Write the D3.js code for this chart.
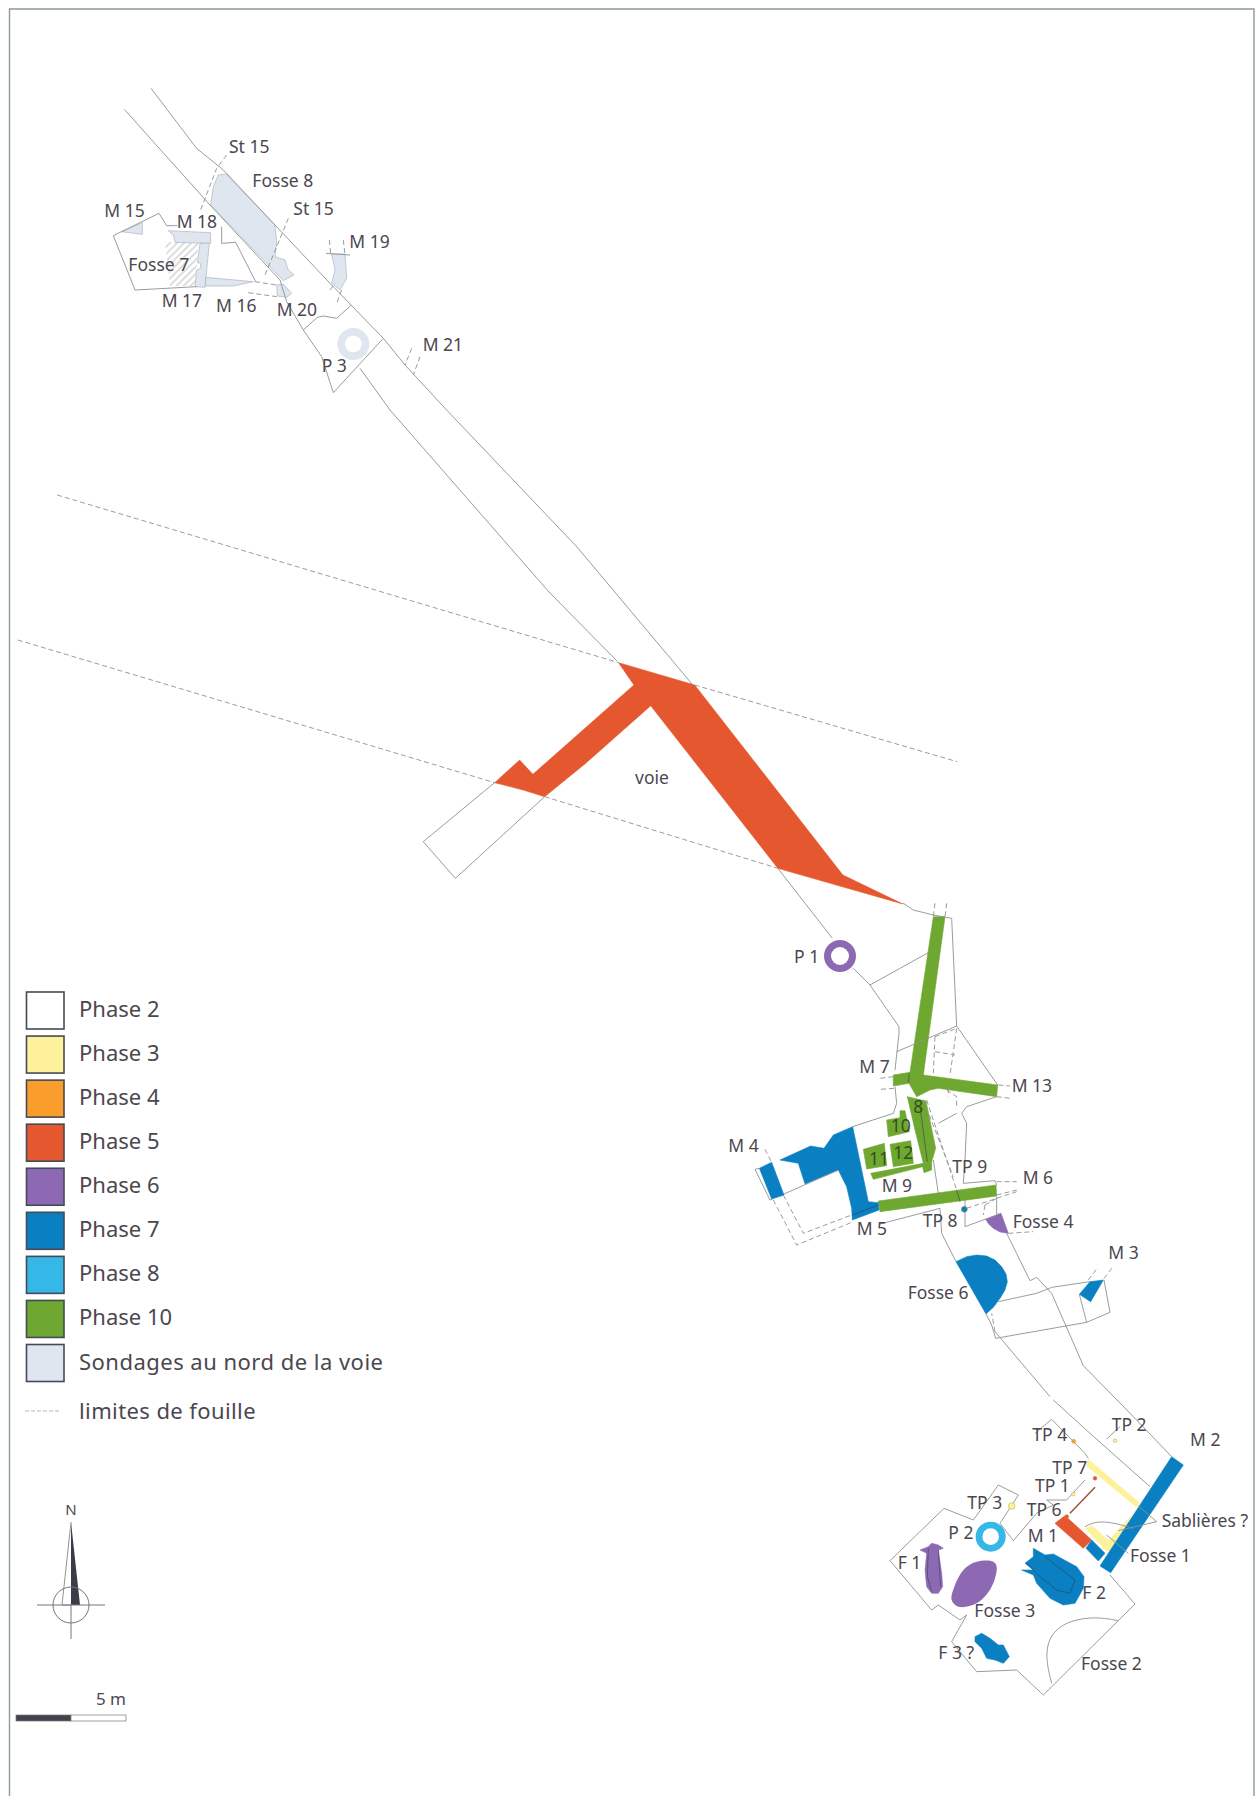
<!DOCTYPE html>
<html>
<head>
<meta charset="utf-8">
<script src="https://cdn.jsdelivr.net/npm/d3@7/dist/d3.min.js"></script>
<style>
  html, body { margin: 0; padding: 0; background: #fff; }
  text { font-family: "Noto Sans", sans-serif; }
</style>
</head>
<body>
<svg id="plan" width="1258" height="1796"></svg>
<script>
// Legend
const phaseNames = ["Phase 2", "Phase 3", "Phase 4", "Phase 5", "Phase 6", "Phase 7", "Phase 8", "Phase 10", "Sondages au nord de la voie"];
const phaseColours = ["#ffffff", "#fdf29b", "#f99d2c", "#e4572f", "#8e69b3", "#0a7fc2", "#35b8e8", "#6fa830", "#dfe6f0"];

// Plan is digitised in five sheets, each with its own origin and enlargement: [x0, y0, kx, ky]
const northSheet = [90, 70, 3, 3];
const voieSheet = [400, 640, 2.8, 3];
const centreSheet = [700, 900, 3, 3];
const midSheet = [880, 1200, 3, 3];
const southSheet = [870, 1400, 3, 3];

// North sheet
const northFills = [
  ["Sondages au nord de la voie", [[385,315],[408,312],[555,465],[560,520],[555,560],[585,570],[595,600],[612,615],[580,632],[362,405],[370,350]]],
  ["Sondages au nord de la voie", [[95,485],[157,458],[157,493]]],
  ["Sondages au nord de la voie", [[235,482],[362,488],[362,520],[255,517],[250,495]]],
  ["Sondages au nord de la voie", [[330,520],[358,520],[345,652],[315,650],[320,600],[332,595],[332,580],[322,578]]],
  ["Sondages au nord de la voie", [[347,622],[490,635],[430,648],[347,648]]],
  ["Sondages au nord de la voie", [[560,645],[580,642],[605,670],[590,682],[562,678]]],
  ["Sondages au nord de la voie", [[725,552],[765,552],[770,625],[750,660],[725,640],[735,600]]]
];
const northHatch = [[225,515],[325,520],[320,580],[315,648],[240,648],[235,600]];
const northLines = [
  [[183,55],[320,235],[400,300],[555,465],[720,640],[880,805],[945,885],[1065,1015],[1461,1431],[1806,1842]],
  [[103,118],[360,405],[570,630],[590,695],[640,780],[695,860],[730,968],[880,805]],
  [[640,780],[682,742],[700,738],[740,745],[782,707]],
  [[810,895],[900,1020],[1377,1566],[1581,1773]],
  [[70,497],[207,430],[230,467],[262,467]],
  [[70,497],[135,660],[320,650]],
  [[395,470],[395,520],[437,517],[497,635]],
  [[708,550],[780,555]]
];
const northDashes = [
  [[410,255],[380,295],[330,425]],
  [[595,445],[560,530],[525,615]],
  [[718,510],[722,550]], [[760,510],[765,555]],
  [[720,660],[735,640]], [[755,660],[740,700]],
  [[965,835],[945,885]], [[990,860],[970,915]],
  [[475,668],[560,680]], [[495,635],[560,645]]
];
const northLabels = [
  ["St 15",417,248],["Fosse 8",487,350],["St 15",610,435],["M 15",43,440],["M 18",260,475],
  ["Fosse 7",115,603],["M 19",778,535],["M 17",215,710],["M 16",378,725],["M 20",560,738],
  ["P 3",695,907],["M 21",998,842]
];
const northRings = [["Sondages au nord de la voie", 790, 822, 48, 25]];

// Voie sheet
const voieFills = [
  ["Phase 5", [[612,68],[825,135],[1240,705],[1408,792],[1058,685],[702,197],[520,370],[405,470],[345,450],[265,428],[335,360],[372,403],[655,135]]]
];
const voieLines = [
  [[265,428],[65,605],[155,715],[405,470]],
  [[1058,685],[1210,894]]
];
const voieDashes = [
  [[-960,-435],[612,68]],
  [[825,135],[1560,365]],
  [[-1070,0],[265,428]],
  [[405,470],[1058,685]]
];
const voieLabels = [["voie",658,432]];

// Centre sheet
const centreFills = [
  ["Phase 10", [[700,50],[735,50],[670,525],[893,555],[890,590],[715,565],[690,570],[650,590],[627,550],[580,558],[580,525],[630,517]]],
  ["Phase 10", [[622,590],[678,603],[707,745],[695,785],[670,790],[645,690]]],
  ["Phase 10", [[512,820],[670,790],[695,785],[695,810],[672,818],[668,800],[520,838]]],
  ["Phase 10", [[560,660],[600,653],[600,632],[615,632],[628,695],[565,710]]],
  ["Phase 10", [[490,748],[553,730],[560,797],[500,807]]],
  ["Phase 10", [[570,733],[632,722],[640,790],[580,800]]],
  ["Phase 10", [[535,903],[888,855],[890,888],[540,935]]],
  ["Phase 7", [[458,680],[505,905],[535,908],[537,930],[457,960],[455,925],[440,860],[415,810],[315,852],[295,790],[240,780],[332,738],[372,745],[400,705]]],
  ["Phase 7", [[178,805],[215,787],[252,885],[215,897]]],
  ["Phase 6", [[857,958],[903,940],[925,1000],[900,996],[880,985],[866,972]]]
];
const centreRings = [["Phase 6", 420, 168, 48, 27]];
const centreDots = [["Phase 7", 793, 928, 18]];
const centreLines = [
  [[460,205],[510,255],[597,380],[597,400],[585,510]],
  [[510,255],[690,155]],
  [[590,455],[770,378]],
  [[609,9],[640,30],[700,45],[755,55],[770,378],[893,555]],
  [[585,560],[590,610],[580,640],[458,680]],
  [[890,590],[800,620],[785,640],[800,670],[795,780],[790,850],[885,842],[890,855]],
  [[715,670],[770,640]],
  [[700,780],[715,880]],
  [[252,882],[415,810]],
  [[165,808],[210,900],[218,897]],
  [[795,900],[795,980],[890,945],[890,890]]
];
const centreDark = [
  [[660,620],[682,785]],
  [[770,870],[780,905]],
  [[628,520],[625,548]],
  [[457,945],[535,915]]
];
const centreDashes = [
  [[705,10],[700,50]], [[740,10],[735,50]],
  [[705,410],[770,385]], [[705,410],[700,520]], [[770,385],[750,525]], [[705,455],[765,465]],
  [[740,570],[770,590],[770,625]], [[745,565],[745,590]],
  [[580,530],[540,535]], [[582,565],[540,568]],
  [[895,555],[930,558]], [[890,590],[930,595]],
  [[680,600],[770,870]], [[670,600],[760,830]],
  [[890,845],[950,845]], [[890,885],[950,870]], [[800,925],[950,875]],
  [[855,915],[850,945]], [[855,915],[890,895]],
  [[925,1000],[1000,995]],
  [[195,748],[215,787]], [[165,808],[178,805]],
  [[220,900],[290,1035],[460,965]],
  [[250,885],[310,1000],[455,945]]
];
const centreLabels = [
  ["P 1",282,190],["M 7",478,520],["M 13",935,575],["M 4",85,757],["TP 9",757,818],["M 6",968,852],
  ["M 9",545,875],["TP 8",668,980],["M 5",470,1005],["Fosse 4",938,985]
];
const centreNumbers = [["8",640,640],["10",572,695],["11",507,795],["12",580,778]];

// Mid sheet, between the centre and the south end
const midFills = [
  ["Phase 7", [[228,185],[260,170],[290,165],[320,168],[345,180],[365,200],[378,222],[382,245],[375,270],[360,295],[340,322],[318,342]]],
  ["Phase 7", [[630,245],[670,240],[632,305],[598,283]]]
];
const midLines = [
  [[0,72],[180,25],[185,100],[228,185]],
  [[318,342],[335,375],[347,415],[620,367],[690,337],[672,240]],
  [[355,305],[470,280],[515,262],[630,245]],
  [[345,395],[510,590]],
  [[355,40],[380,100],[450,242],[470,232],[515,280],[610,497],[760,650],[875,770]],
  [[598,283],[620,367]],
  [[680,717],[720,680]]
];
const midDashes = [
  [[625,240],[650,207]], [[672,235],[697,203]],
  [[345,395],[335,340]]
];
const midLabels = [["M 3",685,178],["Fosse 6",83,296]];

// South sheet
const southFills = [
  ["Phase 3", [[655,178],[808,308],[800,322],[650,197]]],
  ["Phase 3", [[645,385],[668,378],[722,428],[700,442]]],
  ["Phase 3", [[695,445],[785,345],[720,455]]],
  ["Phase 5", [[555,370],[585,347],[665,420],[640,445]]],
  ["Phase 7", [[905,170],[940,195],[722,518],[690,498]]],
  ["Phase 7", [[665,420],[705,460],[685,483],[648,445]]],
  ["Phase 7", [[490,445],[525,465],[550,462],[620,500],[642,530],[640,565],[615,610],[580,615],[540,595],[500,550],[490,525],[455,510],[490,510],[465,490],[490,470]]],
  ["Phase 7", [[315,710],[335,700],[360,715],[385,735],[400,735],[418,770],[400,790],[375,780],[350,775],[335,745],[315,725]]],
  ["Phase 6", [[150,450],[175,440],[185,430],[205,435],[220,445],[205,450],[215,520],[218,560],[205,580],[185,580],[170,560],[165,510],[170,460]]]
];
const southRound = [
  ["Phase 6", [[320,485],[370,485],[380,500],[365,560],[320,610],[265,620],[245,600],[255,555],[285,505]]]
];
const southRings = [["Phase 8", 362, 410, 45, 25]];
// dots: phase, x, y, diameter
const southDots = [["Phase 4",611,124,12],["Phase 5",675,235,12],["Phase 3",610,282,11],["Phase 3",425,318,20],["Phase 3",735,122,11],["Phase 5",590,350,12]];
const southLines = [
  [[550,0],[660,100],[840,260]],
  [[545,58],[645,160],[655,175]],
  [[545,58],[495,100]],
  [[645,240],[590,300],[530,300],[550,315],[500,340],[430,422],[390,370],[445,285],[385,255],[310,360],[222,325],[60,482],[185,630],[205,615],[270,660],[290,645],[245,725],[320,815],[440,810],[520,885],[795,612],[720,525]],
  [[860,365],[805,318]], [[860,365],[745,392]],
  [[775,460],[710,405]]
];
const southCurves = [
  [[545,850],[525,770],[540,700],[600,660],[680,650],[745,662]],
  [[645,380],[680,362],[740,370],[790,385]]
];
const southLabels = [
  ["TP 2",725,92],["M 2",960,137],["TP 4",487,122],["TP 7",547,222],["TP 1",495,277],["TP 3",292,327],
  ["TP 6",470,347],["Sablières ?",875,382],["P 2",235,417],["M 1",473,425],["Fosse 1",780,485],["F 1",83,507],
  ["F 2",637,597],["Fosse 3",313,652],["F 3 ?",205,778],["Fosse 2",633,810]
];
const southInner = [[[600,340],[675,262]]];
const southDark = [
  [[525,470],[615,540],[600,580],[560,570],[510,530],[470,490]],
  [[175,445],[172,530],[185,575]],
  [[205,450],[212,560]]
];

const width = 1258;
const height = 1796;
const svg = d3.select("#plan");
const colour = d3.scaleOrdinal(phaseNames, phaseColours);
const lineColour = "#8f9191";
const textColour = "#4b4750";

const defs = svg.append("defs");
const hatch = defs.append("pattern")
  .attr("id", "hatch")
  .attr("width", 5)
  .attr("height", 5)
  .attr("patternUnits", "userSpaceOnUse")
  .attr("patternTransform", "rotate(-45)");
hatch.append("line")
  .attr("x1", 0).attr("x2", 5).attr("y1", 2).attr("y2", 2)
  .attr("stroke", "#a8a8a8").attr("stroke-width", 0.8);

// Page frame
svg.append("path")
  .attr("d", d3.line()([[9.5, height], [9.5, 9], [1254, 9], [1254, height]]))
  .attr("fill", "none")
  .attr("stroke", "#8b9a9f")
  .attr("stroke-width", 1.4);

// Draw one digitised sheet through its own pair of scales
function drawSheet(sheet, layers) {
  const [x0, y0, kx, ky] = sheet;
  const x = d3.scaleLinear().domain([0, 1]).range([x0, x0 + 1 / kx]);
  const y = d3.scaleLinear().domain([0, 1]).range([y0, y0 + 1 / ky]);
  const path = d3.line().x(d => x(d[0])).y(d => y(d[1]));
  const g = svg.append("g");

  const closed = pts => path(pts) + "Z";
  const round = d3.line().x(d => x(d[0])).y(d => y(d[1])).curve(d3.curveCatmullRomClosed);
  const open = d3.line().x(d => x(d[0])).y(d => y(d[1])).curve(d3.curveBasis);
  const edge = d => d[0] === "Sondages au nord de la voie" ? "#a3abb6" : colour(d[0]);

  if (layers.hatch) {
    g.append("path").attr("d", closed(layers.hatch)).attr("fill", "url(#hatch)");
  }

  g.selectAll("path.fill")
    .data(layers.fills || [])
    .join("path")
    .attr("class", "fill")
    .attr("d", d => closed(d[1]))
    .attr("fill", d => colour(d[0]))
    .attr("stroke", edge)
    .attr("stroke-width", 0.6);

  g.selectAll("path.round")
    .data(layers.round || [])
    .join("path")
    .attr("class", "round")
    .attr("d", d => round(d[1]))
    .attr("fill", d => colour(d[0]));

  g.selectAll("path.line")
    .data(layers.lines || [])
    .join("path")
    .attr("class", "line")
    .attr("d", path)
    .attr("fill", "none")
    .attr("stroke", lineColour)
    .attr("stroke-width", 0.9);

  g.selectAll("path.curve")
    .data(layers.curves || [])
    .join("path")
    .attr("class", "curve")
    .attr("d", open)
    .attr("fill", "none")
    .attr("stroke", lineColour)
    .attr("stroke-width", 0.9);

  g.selectAll("path.dash")
    .data(layers.dashes || [])
    .join("path")
    .attr("class", "dash")
    .attr("d", path)
    .attr("fill", "none")
    .attr("stroke", lineColour)
    .attr("stroke-width", 0.9)
    .attr("stroke-dasharray", "5 3");

  g.selectAll("path.inner")
    .data(layers.inner || [])
    .join("path")
    .attr("class", "inner")
    .attr("d", path)
    .attr("fill", "none")
    .attr("stroke", "#9c4a3c")
    .attr("stroke-width", 1.4);

  g.selectAll("path.dark")
    .data(layers.dark || [])
    .join("path")
    .attr("class", "dark")
    .attr("d", path)
    .attr("fill", "none")
    .attr("stroke", "#2c3f4a")
    .attr("stroke-opacity", 0.7)
    .attr("stroke-width", 0.8);

  // Rings: puits drawn as a thick circle
  g.selectAll("circle.ring")
    .data(layers.rings || [])
    .join("circle")
    .attr("class", "ring")
    .attr("cx", d => x(d[1]))
    .attr("cy", d => y(d[2]))
    .attr("r", d => (d[3] + d[4]) / 2 / kx)
    .attr("fill", "none")
    .attr("stroke", d => colour(d[0]))
    .attr("stroke-width", d => (d[3] - d[4]) / kx);

  g.selectAll("circle.dot")
    .data(layers.dots || [])
    .join("circle")
    .attr("class", "dot")
    .attr("cx", d => x(d[1]))
    .attr("cy", d => y(d[2]))
    .attr("r", d => d[3] / 2 / kx)
    .attr("fill", d => colour(d[0]))
    .attr("stroke", "#c79a4a")
    .attr("stroke-width", 0.5);

  g.selectAll("text.label")
    .data(layers.labels || [])
    .join("text")
    .attr("class", "label")
    .attr("x", d => x(d[1]))
    .attr("y", d => y(d[2]))
    .attr("font-size", 17.5)
    .attr("fill", textColour)
    .text(d => d[0]);

  g.selectAll("text.number")
    .data(layers.numbers || [])
    .join("text")
    .attr("class", "number")
    .attr("x", d => x(d[1]))
    .attr("y", d => y(d[2]))
    .attr("font-size", 17.5)
    .attr("fill", "#35501f")
    .text(d => d[0]);
}

drawSheet(voieSheet, { fills: voieFills, lines: voieLines, dashes: voieDashes, labels: voieLabels });
drawSheet(northSheet, { hatch: northHatch, fills: northFills, lines: northLines, dashes: northDashes, rings: northRings, labels: northLabels });
drawSheet(midSheet, { fills: midFills, lines: midLines, dashes: midDashes, labels: midLabels });
drawSheet(centreSheet, { fills: centreFills, lines: centreLines, dark: centreDark, dashes: centreDashes, rings: centreRings, dots: centreDots, labels: centreLabels, numbers: centreNumbers });
drawSheet(southSheet, { fills: southFills, round: southRound, lines: southLines, dark: southDark, curves: southCurves, inner: southInner, rings: southRings, dots: southDots, labels: southLabels });

// Legend
const legendY = d3.scalePoint().domain(phaseNames).range([992, 1344.5]);
const legend = svg.append("g");
legend.selectAll("rect")
  .data(phaseNames)
  .join("rect")
  .attr("x", 26.5)
  .attr("y", d => legendY(d))
  .attr("width", 37.5)
  .attr("height", 37)
  .attr("fill", d => colour(d))
  .attr("stroke", "#454a55")
  .attr("stroke-width", 1.6);
legend.selectAll("text")
  .data(phaseNames)
  .join("text")
  .attr("x", 79)
  .attr("y", d => legendY(d) + 25)
  .attr("font-size", 22)
  .attr("letter-spacing", d => d.length > 8 ? 0.48 : 0)
  .attr("fill", textColour)
  .text(d => d);
legend.append("line")
  .attr("x1", 25).attr("x2", 60).attr("y1", 1411).attr("y2", 1411)
  .attr("stroke", "#b5b5b5").attr("stroke-width", 1).attr("stroke-dasharray", "4 2");
legend.append("text")
  .attr("x", 79).attr("y", 1419)
  .attr("font-size", 22).attr("letter-spacing", 0.4).attr("fill", textColour)
  .text("limites de fouille");

// North arrow
const arrow = svg.append("g");
arrow.append("text")
  .attr("x", 71).attr("y", 1515).attr("text-anchor", "middle")
  .attr("font-size", 15).attr("fill", textColour).text("N");
arrow.append("path").attr("d", d3.line()([[71, 1522], [62, 1605], [71, 1605]]))
  .attr("fill", "#fff").attr("stroke", "#777").attr("stroke-width", 0.8);
arrow.append("path").attr("d", d3.line()([[71, 1522], [80, 1605], [71, 1605]]))
  .attr("fill", "#3a3d48");
arrow.append("circle").attr("cx", 71).attr("cy", 1605).attr("r", 18)
  .attr("fill", "none").attr("stroke", "#777").attr("stroke-width", 1);
arrow.append("line").attr("x1", 37).attr("x2", 105).attr("y1", 1605).attr("y2", 1605)
  .attr("stroke", "#777").attr("stroke-width", 1);
arrow.append("line").attr("x1", 71).attr("x2", 71).attr("y1", 1605).attr("y2", 1639)
  .attr("stroke", "#777").attr("stroke-width", 1);

// Scale bar, 5 m
const metres = d3.scaleLinear().domain([0, 5]).range([16, 126]);
const bar = svg.append("g");
bar.selectAll("rect")
  .data([[0, 2.5, "#45414d"], [2.5, 5, "#fff"]])
  .join("rect")
  .attr("x", d => metres(d[0]))
  .attr("y", 1715)
  .attr("width", d => metres(d[1]) - metres(d[0]))
  .attr("height", 6)
  .attr("fill", d => d[2])
  .attr("stroke", "#777")
  .attr("stroke-width", 0.7);
bar.append("text")
  .attr("x", metres(5)).attr("y", 1705).attr("text-anchor", "end")
  .attr("font-size", 17).attr("fill", textColour).text("5 m");
</script>
</body>
</html>
